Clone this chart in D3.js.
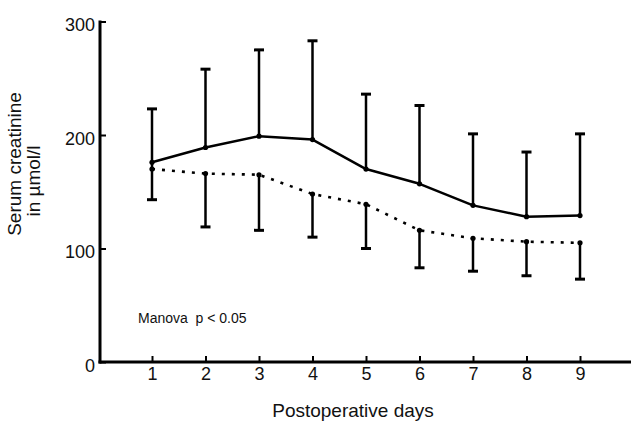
<!DOCTYPE html>
<html>
<head>
<meta charset="utf-8">
<script src="https://cdn.jsdelivr.net/npm/d3@7"></script>
<style>
  html, body { margin: 0; padding: 0; background: #fff; }
  svg { display: block; }
  text { font-family: "Liberation Sans", Arial, Helvetica, sans-serif; fill: #111; }
</style>
</head>
<body>
<svg id="chart" width="631" height="421"></svg>
<script>
// ---- data ----
const days = [1, 2, 3, 4, 5, 6, 7, 8, 9];
// solid line group: mean and upper SD limit
const solidMean  = [176, 189, 199, 196, 170, 157, 138, 128, 129];
const solidUpper = [223, 258, 275, 283, 236, 226, 201, 185, 201];
// dotted line group: mean and lower SD limit
const dottedMean  = [170, 166, 165, 148, 139, 116, 109, 106, 105];
const dottedLower = [143, 119, 116, 110, 100, 83, 80, 76, 73];
const yTicks = [0, 100, 200, 300];
const xTicks = days;
const yTitle = ["Serum creatinine", "in \u00b5mol/l"];
const xTitle = "Postoperative days";
const note = "Manova\u00a0\u00a0p < 0.05";

// ---- layout ----
const svg = d3.select("#chart");
const x = d3.scaleLinear().domain([0, 10]).range([98.5, 633.5]);
const y = d3.scaleLinear().domain([0, 300]).range([362, 21.5]);
const axisX0 = 100;

// y axis
const gy = svg.append("g").attr("transform", `translate(${axisX0},0)`)
  .call(d3.axisLeft(y).tickValues(yTicks).tickSizeInner(-6).tickSizeOuter(0).tickPadding(5));
gy.select(".domain").remove();
gy.selectAll(".tick line").attr("stroke", "#000").attr("stroke-width", 2);
gy.selectAll(".tick text").attr("font-size", 18).attr("dy", "0.5em")
  .style("font-family", "'Liberation Sans', Arial, sans-serif").attr("fill", "#111");
svg.append("line").attr("x1", axisX0).attr("x2", axisX0).attr("y1", y(300) - 1).attr("y2", y(0) + 1.5)
  .attr("stroke", "#000").attr("stroke-width", 3);

// x axis
const gx = svg.append("g").attr("transform", `translate(0,${y(0)})`)
  .call(d3.axisBottom(x).tickValues(xTicks).tickSizeInner(-6).tickSizeOuter(0).tickPadding(5));
gx.select(".domain").remove();
gx.selectAll(".tick line").attr("stroke", "#000").attr("stroke-width", 2);
gx.selectAll(".tick text").attr("font-size", 18)
  .style("font-family", "'Liberation Sans', Arial, sans-serif").attr("fill", "#111");
svg.append("line").attr("x1", axisX0 - 1.5).attr("x2", 631).attr("y1", y(0)).attr("y2", y(0))
  .attr("stroke", "#000").attr("stroke-width", 3);

// titles
svg.append("text").attr("x", 353).attr("y", 417).attr("text-anchor", "middle")
  .attr("font-size", 19).text(xTitle);
svg.append("text").attr("transform", "translate(21,164) rotate(-90)").attr("text-anchor", "middle")
  .attr("font-size", 19).text(yTitle[0]);
svg.append("text").attr("transform", "translate(40,181) rotate(-90)").attr("text-anchor", "middle")
  .attr("font-size", 19).text(yTitle[1]);
svg.append("text").attr("x", 138).attr("y", 322.5).attr("font-size", 14).text(note);

// error bars
const capW = 5;
days.forEach((d, i) => {
  const cx = x(d);
  // upper bar for solid group
  svg.append("line").attr("x1", cx).attr("x2", cx).attr("y1", y(solidMean[i])).attr("y2", y(solidUpper[i]))
    .attr("stroke", "#000").attr("stroke-width", 2.5);
  svg.append("line").attr("x1", cx - capW).attr("x2", cx + capW).attr("y1", y(solidUpper[i])).attr("y2", y(solidUpper[i]))
    .attr("stroke", "#000").attr("stroke-width", 3);
  // lower bar for dotted group
  svg.append("line").attr("x1", cx).attr("x2", cx).attr("y1", y(dottedMean[i])).attr("y2", y(dottedLower[i]))
    .attr("stroke", "#000").attr("stroke-width", 2.5);
  svg.append("line").attr("x1", cx - capW).attr("x2", cx + capW).attr("y1", y(dottedLower[i])).attr("y2", y(dottedLower[i]))
    .attr("stroke", "#000").attr("stroke-width", 3);
});
// day 1: the bar runs through both means
svg.append("line").attr("x1", x(days[0])).attr("x2", x(days[0]))
  .attr("y1", y(solidMean[0])).attr("y2", y(dottedMean[0]))
  .attr("stroke", "#000").attr("stroke-width", 2.5);

// lines
const line = d3.line().x(d => x(d[0])).y(d => y(d[1]));
svg.append("path").datum(days.map((d, i) => [d, solidMean[i]])).attr("d", line)
  .attr("fill", "none").attr("stroke", "#000").attr("stroke-width", 2.5).attr("stroke-linejoin", "round");
svg.append("path").datum(days.map((d, i) => [d, dottedMean[i]])).attr("d", line)
  .attr("fill", "none").attr("stroke", "#000").attr("stroke-width", 2.6).attr("stroke-dasharray", "3,7");

// points
svg.selectAll(".ps").data(days).enter().append("circle")
  .attr("cx", d => x(d)).attr("cy", (d, i) => y(solidMean[i])).attr("r", 2.6).attr("fill", "#000");
svg.selectAll(".pd").data(days).enter().append("circle")
  .attr("cx", d => x(d)).attr("cy", (d, i) => y(dottedMean[i])).attr("r", 2.6).attr("fill", "#000");
</script>
</body>
</html>
